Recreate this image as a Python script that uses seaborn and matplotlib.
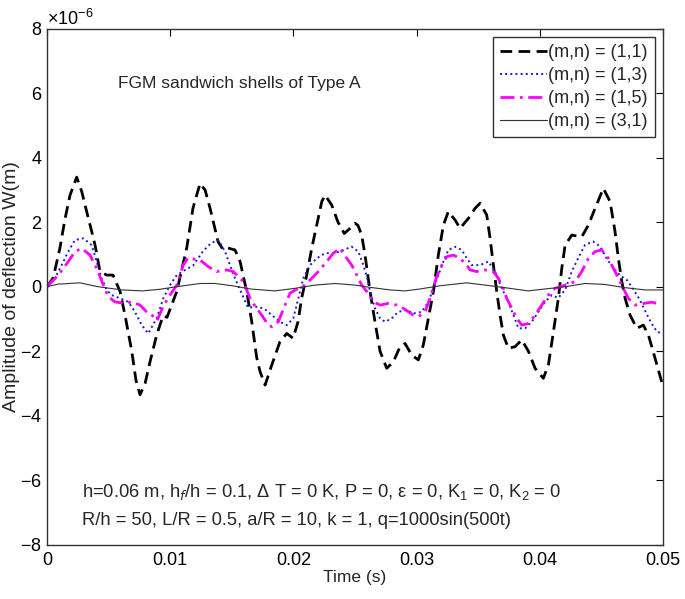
import numpy as np
import matplotlib
matplotlib.use("Agg")
import matplotlib.pyplot as plt
import seaborn as sns
from matplotlib.ticker import ScalarFormatter, MultipleLocator

# valores (tempo em s, deflexão em 1e-6 m)
t11 = [0, 0.0005, 0.00105, 0.00146, 0.00187, 0.00241, 0.00282, 0.00322, 0.00363, 0.0039,
       0.0043, 0.00485, 0.00536, 0.00593, 0.00633, 0.00688, 0.00722, 0.00755, 0.00796, 0.00836,
       0.0089, 0.00942, 0.00974, 0.01053, 0.01134, 0.01185, 0.01242, 0.01283, 0.01323, 0.01388,
       0.01429, 0.01469, 0.01526, 0.01567, 0.01621, 0.01662, 0.01702, 0.01729, 0.0177, 0.01824,
       0.01891, 0.01946, 0.01997, 0.02037, 0.02067, 0.02108, 0.02149, 0.02189, 0.0223, 0.02257,
       0.02311, 0.02362, 0.02413, 0.02459, 0.025, 0.02524, 0.02554, 0.02581, 0.02622, 0.02662,
       0.02703, 0.02757, 0.02811, 0.02865, 0.02906, 0.0296, 0.03014, 0.03054, 0.03095, 0.03136,
       0.03176, 0.03217, 0.03257, 0.03312, 0.03352, 0.0342, 0.03474, 0.03515, 0.03569, 0.03596,
       0.03623, 0.0365, 0.03677, 0.03704, 0.03744, 0.03799, 0.03853, 0.03907, 0.03961, 0.04028,
       0.04069, 0.0411, 0.0415, 0.04178, 0.04205, 0.04259, 0.0434, 0.04394, 0.04448, 0.04515,
       0.0457, 0.0461, 0.04637, 0.04665, 0.04692, 0.04732, 0.04787, 0.0484, 0.04881, 0.04935,
       0.05]
w11 = [0, 0.27, 1.2, 2.1, 2.84, 3.4, 2.95, 2.33, 1.71, 1.29,
       0.47, 0.36, 0.36, -0.15, -0.88, -2.0, -2.9, -3.35, -3.0, -2.33,
       -1.5, -0.9, -0.95, -0.15, 1.2, 2.44, 3.2, 3.0, 2.44, 1.4,
       1.15, 1.2, 1.14, 0.78, -0.15, -1.09, -2.2, -2.63, -3.05, -2.43,
       -1.7, -1.45, -1.6, -1.09, -0.35, 0.36, 1.2, 1.91, 2.64, 2.84,
       2.53, 2.0, 1.65, 1.81, 1.97, 1.9, 1.6, 0.98, -0.15, -1.09,
       -2.0, -2.53, -2.33, -1.86, -1.76, -2.12, -2.27, -1.81, -0.98, -0.15,
       0.98, 1.91, 2.33, 2.07, 1.81, 2.12, 2.43, 2.59, 2.22, 1.5,
       0.67, -0.15, -0.88, -1.5, -1.91, -1.86, -1.65, -2.0, -2.53, -2.84,
       -2.43, -1.4, -0.36, 0.57, 1.29, 1.6, 1.55, 1.91, 2.43, 3.05,
       2.64, 1.71, 0.88, 0.16, -0.36, -0.88, -1.29, -1.19, -1.5, -2.22,
       -3.1]

t13 = [0, 0.00065, 0.00119, 0.00173, 0.00227, 0.00295, 0.00363, 0.00403, 0.00444, 0.00485,
       0.00525, 0.00593, 0.0066, 0.00714, 0.00769, 0.00822, 0.0089, 0.00944, 0.00998, 0.01053,
       0.01134, 0.01185, 0.01266, 0.01331, 0.0139, 0.01445, 0.01485, 0.01526, 0.01567, 0.01632,
       0.01713, 0.01769, 0.01824, 0.01891, 0.01946, 0.01999, 0.0204, 0.0208, 0.02135, 0.02189,
       0.02257, 0.02338, 0.02405, 0.02473, 0.02527, 0.02567, 0.02597, 0.02622, 0.02662, 0.02703,
       0.02744, 0.02798, 0.02851, 0.0292, 0.02973, 0.03041, 0.03095, 0.03136, 0.03176, 0.03217,
       0.03257, 0.03312, 0.03366, 0.03407, 0.03447, 0.03515, 0.03582, 0.03636, 0.03691, 0.03744,
       0.03785, 0.03826, 0.0388, 0.03934, 0.03988, 0.04042, 0.04097, 0.04148, 0.04205, 0.04259,
       0.0431, 0.04367, 0.04432, 0.04489, 0.04545, 0.04594, 0.04651, 0.04708, 0.04762, 0.04812,
       0.04861, 0.04901, 0.04951, 0.05]
w13 = [0, 0.27, 0.67, 1.09, 1.45, 1.5, 1.29, 0.78, 0.26, -0.1,
       -0.26, -0.36, -0.47, -0.78, -1.19, -1.45, -0.98, -0.36, 0.05, 0.36,
       0.55, 0.65, 1.1, 1.35, 1.45, 1.09, 0.67, 0.26, -0.1, -0.65,
       -0.62, -0.7, -0.88, -1.09, -1.19, -0.98, -0.36, 0.26, 0.67, 0.88,
       1.04, 1.04, 1.14, 1.24, 1.09, 0.67, 0.3, -0.15, -0.67, -0.98,
       -1.09, -0.98, -0.78, -0.72, -0.83, -0.78, -0.47, -0.05, 0.36, 0.78,
       1.14, 1.24, 1.14, 0.88, 0.67, 0.67, 0.78, 0.47, -0.05, -0.47,
       -0.88, -1.29, -1.29, -1.09, -0.78, -0.47, -0.26, -0.35, -0.1, 0.47,
       0.88, 1.3, 1.4, 1.25, 0.85, 0.6, 0.35, 0.2, -0.1, -0.41,
       -0.8, -1.1, -1.4, -1.45]

t15 = [0, 0.00092, 0.00173, 0.00227, 0.00282, 0.00349, 0.00403, 0.00457, 0.00498, 0.00552,
       0.00633, 0.00688, 0.00755, 0.00809, 0.00844, 0.00893, 0.00944, 0.00998, 0.01053, 0.01106,
       0.01144, 0.01201, 0.01242, 0.01309, 0.01377, 0.01459, 0.01512, 0.01593, 0.01648, 0.01688,
       0.01743, 0.01796, 0.01824, 0.01877, 0.01932, 0.01972, 0.0204, 0.02094, 0.02149, 0.02202,
       0.0227, 0.02324, 0.02378, 0.02433, 0.02473, 0.02514, 0.02554, 0.02595, 0.02649, 0.02703,
       0.0277, 0.02839, 0.02892, 0.02973, 0.03014, 0.03068, 0.03109, 0.03149, 0.0319, 0.03244,
       0.03298, 0.03352, 0.03407, 0.03433, 0.03488, 0.03555, 0.03623, 0.03663, 0.03704, 0.03731,
       0.03772, 0.03813, 0.03853, 0.03907, 0.03961, 0.04015, 0.04069, 0.04123, 0.04205, 0.04286,
       0.0434, 0.04394, 0.04448, 0.04502, 0.04556, 0.0461, 0.04664, 0.04718, 0.04773, 0.0484,
       0.04908, 0.04951]
w15 = [0, 0.36, 0.78, 1.09, 1.19, 0.98, 0.57, 0.05, -0.31, -0.47,
       -0.52, -0.47, -0.57, -0.78, -0.85, -1.05, -0.6, -0.26, 0.05, 0.67,
       0.9, 0.85, 0.83, 0.62, 0.47, 0.52, 0.47, 0.16, -0.36, -0.6,
       -0.88, -1.19, -1.24, -1.09, -0.57, -0.2, -0.05, 0.05, 0.26, 0.47,
       0.78, 1.04, 1.19, 0.88, 0.67, 0.36, 0.05, -0.15, -0.47, -0.57,
       -0.52, -0.57, -0.67, -0.88, -0.93, -0.78, -0.36, 0.16, 0.57, 0.93,
       0.98, 0.88, 0.67, 0.52, 0.47, 0.52, 0.47, 0.26, -0.05, -0.36,
       -0.67, -0.98, -1.19, -1.14, -0.88, -0.57, -0.26, -0.05, 0.05, 0.16,
       0.47, 0.88, 1.09, 1.14, 0.88, 0.47, 0.05, -0.36, -0.57, -0.52,
       -0.48, -0.52]

t31 = [0, 0.00089, 0.00268, 0.00414, 0.00609, 0.00771, 0.00917, 0.01053, 0.01242, 0.01364,
       0.01502, 0.01648, 0.01851, 0.02013, 0.02175, 0.02338, 0.025, 0.02622, 0.02784, 0.02906,
       0.03028, 0.0319, 0.03407, 0.03555, 0.03718, 0.03904, 0.04042, 0.04205, 0.04367, 0.04529,
       0.04692, 0.04854, 0.05]
w31 = [0, 0.08, 0.12, 0.0, -0.1, -0.13, -0.08, 0.0, 0.1, 0.1,
       0.03, -0.07, -0.13, -0.05, 0.05, 0.1, 0.05, -0.02, -0.1, -0.13,
       -0.07, 0.03, 0.12, 0.05, -0.03, -0.13, -0.07, 0.0, 0.1, 0.07,
       -0.03, -0.1, -0.1]

rotulos = ['(m,n) = (1,1)', '(m,n) = (1,3)', '(m,n) = (1,5)', '(m,n) = (3,1)']

sns.set_style('white')
plt.rcParams['font.family'] = ['Liberation Sans', 'DejaVu Sans']
plt.rcParams['font.size'] = 12
plt.rcParams['mathtext.fontset'] = 'custom'
plt.rcParams['mathtext.rm'] = 'Liberation Sans'

fig = plt.figure(figsize=(6.85, 5.99), dpi=100)
ax = fig.add_axes([0.0686, 0.0907, 0.8994, 0.8613])

escala = 1e-6
sns.lineplot(x=t11, y=np.array(w11) * escala, ax=ax, color='black', linewidth=2.0,
             linestyle='--', label=rotulos[0], sort=False)
ax.lines[-1].set_dashes([4.2, 2.3])
sns.lineplot(x=t13, y=np.array(w13) * escala, ax=ax, color='#1a1acc', linewidth=1.4,
             linestyle=':', label=rotulos[1], sort=False)
sns.lineplot(x=t15, y=np.array(w15) * escala, ax=ax, color='#ff00ff', linewidth=2.0,
             linestyle='-.', label=rotulos[2], sort=False)
ax.lines[-1].set_dashes([5, 2, 1, 2])
sns.lineplot(x=t31, y=np.array(w31) * escala, ax=ax, color='#333333', linewidth=0.8,
             label=rotulos[3], sort=False)

ax.set_xlim(0, 0.05)
ax.set_ylim(-8e-6, 8e-6)
ax.yaxis.set_major_locator(MultipleLocator(2e-6))
fmt = ScalarFormatter(useMathText=True)
fmt.set_powerlimits((-3, 3))
ax.yaxis.set_major_formatter(fmt)
ax.xaxis.set_ticks([0, 0.01, 0.02, 0.03, 0.04, 0.05])
ax.set_xticklabels(['0', '0.01', '0.02', '0.03', '0.04', '0.05'])

ax.tick_params(direction='in', length=5, width=0.8, top=True, right=True,
               labelsize=13, colors='black')
ax.tick_params(axis='x', pad=5)
ax.yaxis.get_offset_text().set_fontsize(13)
for s in ax.spines.values():
    s.set_color('#333333')
    s.set_linewidth(1.0)

ax.set_xlabel('Time (s)', fontsize=12.5, labelpad=1)
ax.set_ylabel('Amplitude of deflection W(m)', fontsize=14, labelpad=0)

ax.text(0.00576, 6.3e-6, 'FGM sandwich shells of Type A', fontsize=12.5, va='center')
ax.text(0.00284, -6.37e-6,
        'h=0.06 m, h$_f$/h = 0.1, $\\Delta$ T = 0 K, P = 0, \u03b5 = 0, K$_1$ = 0, K$_2$ = 0',
        fontsize=13.2, va='center')
ax.text(0.00284, -7.25e-6, 'R/h = 50, L/R = 0.5, a/R = 10, k = 1, q=1000sin(500t)',
        fontsize=13.2, va='center')

leg = ax.legend(loc='upper right', fontsize=13, handlelength=2.6, handletextpad=0.05,
                fancybox=False, framealpha=1, edgecolor='#333333', borderaxespad=0.45,
                labelspacing=0.33, borderpad=0.4)
leg.get_frame().set_linewidth(1.0)

plt.savefig('out.png', dpi=100)
